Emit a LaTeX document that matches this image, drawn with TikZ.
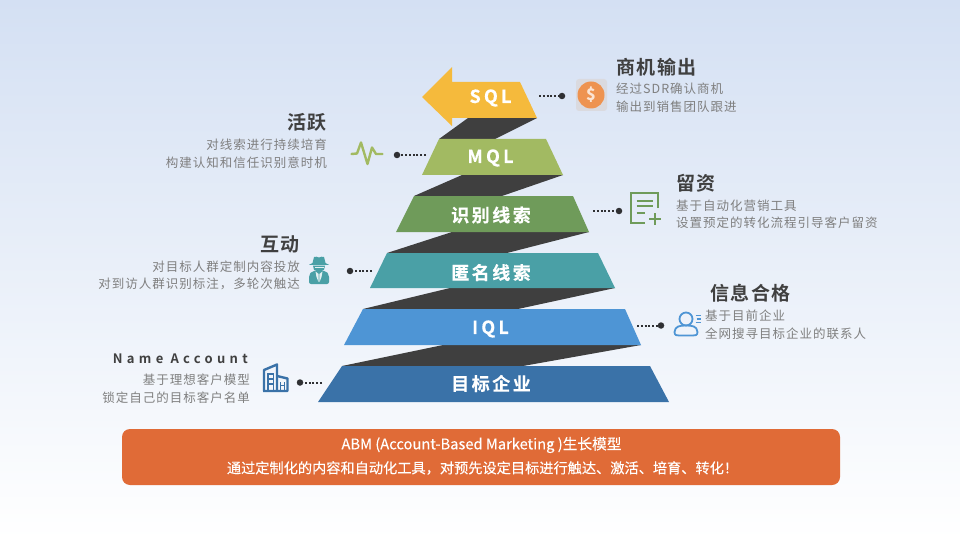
\documentclass[tikz,border=0pt]{standalone}
\usepackage{fontspec}
\setmainfont{Noto Sans CJK SC}
\newfontfamily\bodyfont[LetterSpace=8]{Noto Sans CJK SC}
\newfontfamily\bannerfont[FakeBold=0.15]{Noto Sans CJK SC}
\newfontfamily\titlefont[LetterSpace=8,BoldFont={Noto Sans CJK SC Bold}]{Noto Sans CJK SC}
\newfontfamily\labelfont[LetterSpace=18,BoldFont={Noto Sans CJK SC Bold},BoldFeatures={FakeBold=0.4}]{Noto Sans CJK SC}
\newfontfamily\wordfont[LetterSpace=14,BoldFont={Noto Sans CJK SC Bold},BoldFeatures={FakeBold=0.4}]{Noto Sans CJK SC}
\newfontfamily\namefont[LetterSpace=33,BoldFont={Noto Sans CJK SC Bold}]{Noto Sans CJK SC}
\definecolor{cSQL}{HTML}{F5BA3C}
\definecolor{cMQL}{HTML}{A2BA62}
\definecolor{cLead}{HTML}{6F9B5A}
\definecolor{cAnon}{HTML}{4AA0A6}
\definecolor{cIQL}{HTML}{4E95D5}
\definecolor{cTarget}{HTML}{3A72A8}
\definecolor{cDark}{HTML}{3F3F3F}
\definecolor{cDot}{HTML}{2F3033}
\definecolor{cBanner}{HTML}{E06B37}
\definecolor{cBody}{HTML}{7F7F7F}
\definecolor{cTitle}{HTML}{404040}
\definecolor{cCoin}{HTML}{EE9350}
\definecolor{cCoinBg}{HTML}{DADADF}
\definecolor{cTop}{HTML}{D4E0F3}
\tikzset{
  x=1pt,y=-1pt,
  band/.style={inner sep=0pt,text=white,font=\labelfont\bfseries\fontsize{18}{20}\selectfont},
  bandword/.style={inner sep=0pt,text=white,font=\wordfont\bfseries\fontsize{18}{20}\selectfont},
  titletext/.style={inner sep=0pt,text=cTitle,font=\titlefont\bfseries\fontsize{19}{22}\selectfont},
  bodyleft/.style={inner sep=0pt,text=cBody,align=left,anchor=west,font=\bodyfont\fontsize{12.5}{17.5}\selectfont},
  bodyright/.style={inner sep=0pt,text=cBody,align=right,anchor=east,font=\bodyfont\fontsize{12.5}{17.5}\selectfont},
  dotend/.style={circle,fill=cDot,inner sep=0pt,minimum size=6.5pt},
  dotline/.style={draw=cDot,line width=2pt,dash pattern=on 2pt off 1.8pt},
}
\begin{document}
\begin{tikzpicture}
\useasboundingbox (0,0) rectangle (960,540);
\fill[top color=cTop,bottom color=white] (0,0) rectangle (960,540);

% dark connecting bands
\fill[cDark] (468,118) -- (537,118) -- (495,139) -- (439,139) -- cycle;
\fill[cDark] (462,175) -- (563,175) -- (502,196) -- (414,196) -- cycle;
\fill[cDark] (452,232) -- (589,232) -- (507,253) -- (387,253) -- cycle;
\fill[cDark] (450,288) -- (615,288) -- (518,309) -- (363,309) -- cycle;
\fill[cDark] (443,345) -- (641,345) -- (523,366) -- (342,366) -- cycle;

% layers
\fill[cSQL] (422,97) -- (452,67) -- (452,82) -- (520,82) -- (537,118) -- (452,118) -- (452,126) -- cycle;
\fill[cMQL] (439,139) -- (546,139) -- (563,175) -- (422,175) -- cycle;
\fill[cLead] (414,196) -- (573,196) -- (589,232) -- (396,232) -- cycle;
\fill[cAnon] (387,253) -- (598,253) -- (615,288) -- (370,288) -- cycle;
\fill[cIQL] (363,309) -- (625,309) -- (641,345) -- (344,345) -- cycle;
\fill[cTarget] (342,366) -- (650,366) -- (669,402) -- (318,402) -- cycle;

\node[band] (lsql) at (490.5,98) {SQL};
\node[band] (lmql) at (490.5,158) {MQL};
\node[bandword] (llead) at (491,215) {识别线索};
\node[bandword] (lanon) at (491,272.5) {匿名线索};
\node[band] (liql) at (490.5,329) {IQL};
\node[bandword] (ltarget) at (491,383.5) {目标企业};

% connectors
\coordinate (e1) at (539,96);  \node[dotend] (d1) at (562,96) {};  \draw[dotline] (e1) -- (d1);
\coordinate (e2) at (426,155); \node[dotend] (d2) at (397,155) {}; \draw[dotline] (e2) -- (d2);
\coordinate (e3) at (593,211); \node[dotend] (d3) at (619,211) {}; \draw[dotline] (e3) -- (d3);
\coordinate (e4) at (372,271); \node[dotend] (d4) at (350,271) {}; \draw[dotline] (e4) -- (d4);
\coordinate (e5) at (637,325.5); \node[dotend] (d5) at (661,325.5) {}; \draw[dotline] (e5) -- (d5);
\coordinate (e6) at (322,382.5); \node[dotend] (d6) at (300,382.5) {}; \draw[dotline] (e6) -- (d6);

% text blocks
\node[titletext,anchor=west] (t1) at (616,67) {商机输出};
\node[bodyleft] (b1) at (616,97.5) {经过SDR确认商机\\输出到销售团队跟进};
\node[titletext,anchor=east] (t2) at (327,122) {活跃};
\node[bodyright] (b2) at (327,153.5) {对线索进行持续培育\\构建认知和信任识别意时机};
\node[titletext,anchor=west] (t3) at (676,183) {留资};
\node[bodyleft] (b3) at (676,214.5) {基于自动化营销工具\\设置预定的转化流程引导客户留资};
\node[titletext,anchor=east] (t4) at (300,244) {互动};
\node[bodyright] (b4) at (300,275.5) {对目标人群定制内容投放\\对到访人群识别标注，多轮次触达};
\node[titletext,anchor=west] (t5) at (710,293) {信息合格};
\node[bodyleft] (b5) at (705,324.5) {基于目前企业\\全网搜寻目标企业的联系人};
\node[inner sep=0pt,anchor=east,text=cTitle,font=\namefont\bfseries\fontsize{13}{16}\selectfont] (t6) at (248,359) {Name Account};
\node[bodyright] (b6) at (250,388.5) {基于理想客户模型\\锁定自己的目标客户名单};

% icon: coin
\fill[cCoinBg,rounded corners=3pt] (576,79) rectangle (607,111);
\fill[cCoin] (591,95) circle[radius=13.5];
\node[inner sep=0pt,text=white!75!cCoin,font=\bfseries\fontsize{16}{16}\selectfont] (coin) at (591,95) {\$};

% icon: pulse
\draw[cMQL,line width=2.4pt,line cap=round,line join=round]
  (351.5,154) -- (357,153.5) -- (361,142.5) -- (367.5,164) -- (372,147.5) -- (376,154) -- (382.5,154);

% icon: document
\draw[cLead,line width=1.9pt] (658.3,208) -- (658.3,192.7) -- (630.7,192.7) -- (630.7,223.3) -- (645,223.3);
\draw[cLead,line width=1.9pt] (636.7,200.7) -- (652.7,200.7) (636.7,206.3) -- (652.7,206.3) (636.7,213.3) -- (645,213.3);
\draw[cLead,line width=2pt] (649,219) -- (661,219) (655,213) -- (655,225);

% icon: spy
\fill[cAnon] (312.5,263) -- (314,257) .. controls (316,256) and (317,257) .. (319,257.5) .. controls (321,257) and (322,256) .. (324,257) -- (325.5,263) -- (329,264.8) -- (309,264.8) -- cycle;
\fill[cAnon] (313,265.5) -- (325,265.5) -- (324,270) -- (319,272) -- (314,270) -- cycle;
\fill[cAnon,rounded corners=2pt] (309,284) -- (309,275) -- (312,271) -- (326,271) -- (329,275) -- (329,284) -- cycle;
\fill[white!85!cAnon] (315.5,271.5) -- (318.7,274) -- (318.5,282) -- (316.5,277) -- cycle;
\fill[white!85!cAnon] (322.5,271.5) -- (319.3,274) -- (319.5,282) -- (321.5,277) -- cycle;
\fill[white!85!cAnon] (314.5,266.5) rectangle (323.5,267.7);

% icon: user
\draw[cIQL,line width=1.8pt] (686,319) circle[radius=6.5];
\draw[cIQL,line width=1.8pt,line join=round] (674.5,332) .. controls (675,326) and (680,325.5) .. (686,325.5) .. controls (692,325.5) and (697,326) .. (697.5,332) .. controls (697.5,335.5) and (695,335.5) .. (693,335.5) -- (679,335.5) .. controls (677,335.5) and (674.5,335.5) .. (674.5,332) -- cycle;
\draw[cIQL,line width=1.4pt] (695.5,315.5) -- (701,315.5) (696.5,319) -- (701,319) (695.5,322.5) -- (701,322.5);

% icon: building
\draw[cTarget,line width=2.4pt,line join=round] (264,391) -- (264,370) -- (277,364.5) -- (277,391);
\draw[cTarget,line width=2.4pt,line join=round] (277,376) -- (287.5,378.5) -- (287.5,391) -- (263,391);
\draw[cTarget,line width=1.5pt] (267.8,391) -- (267.8,374) -- (273.4,374) -- (273.4,391) (267.8,379) -- (273.4,379) (267.8,384) -- (273.4,384);
\draw[cTarget,line width=1.5pt] (280.3,391) -- (280.3,381.5) (284.5,391) -- (284.5,381.5) (280.3,385.5) -- (284.5,385.5);

% banner
\fill[cBanner,rounded corners=8pt] (122,429) rectangle (840,485);
\node[inner sep=0pt,text=white,font=\bannerfont\fontsize{14.7}{18}\selectfont] (bt1) at (481.5,445) {ABM (Account-Based Marketing )生长模型};
\node[inner sep=0pt,text=white,font=\bannerfont\fontsize{14.2}{18}\selectfont] (bt2) at (482.5,468) {通过定制化的内容和自动化工具，对预先设定目标进行触达、激活、培育、转化！};
\end{tikzpicture}
\end{document}
